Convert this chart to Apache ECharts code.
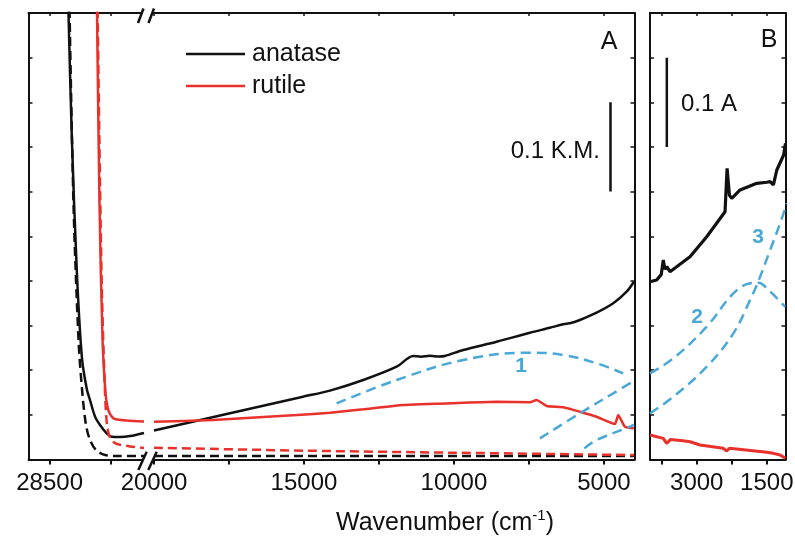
<!DOCTYPE html>
<html>
<head>
<meta charset="utf-8">
<script src="https://cdn.jsdelivr.net/npm/echarts@6/dist/echarts.min.js"></script>
<style>
  html, body { margin: 0; padding: 0; background: #fff; }
  #chart { width: 795px; height: 536px; }
</style>
</head>
<body>
<div id="chart"></div>
<script>
// ---- Spectra: [wavenumber (cm-1), intensity] ----
// Panel A, UV segment (left of the axis break)
const anataseUV = [[27750,0.52],[27596,0.361],[27388,0.208],[27181,0.113],[26980,0.078],[26855,0.0666],[26650,0.048],[26448,0.0386],[26200,0.030],[25972,0.0255],[25634,0.0252],[25226,0.0262],[24656,0.0297]];
const anataseUVRef = [[27700,0.52],[27527,0.285],[27319,0.1316],[27160,0.0722],[27018,0.0386],[26855,0.0218],[26611,0.0106],[26244,0.005],[25634,0.0039],[24656,0.0039]];
const rutileUV = [[26578,0.52],[26468,0.285],[26342,0.1316],[26224,0.0745],[26150,0.060],[26081,0.0532],[25960,0.0478],[25837,0.0454],[25369,0.0437],[24656,0.0426]];
const rutileUVRef = [[26554,0.52],[26387,0.2083],[26244,0.0745],[26163,0.0386],[26041,0.0241],[25900,0.0196],[25756,0.0174],[25226,0.0146],[24656,0.0129]];

// Panel A, visible / NIR segment
const anataseVis = [[20000,0.0325],[17467,0.0517],[15033,0.0703],[14133,0.0771],[13023,0.089],[11910,0.1039],[11357,0.1159],[11100,0.1152],[10800,0.1162],[10500,0.1153],[10300,0.1159],[9690,0.1226],[8577,0.1319],[7467,0.142],[6800,0.1475],[6357,0.1514],[6100,0.1528],[5800,0.1562],[5243,0.1644],[4690,0.1749],[4243,0.1879],[4000,0.1991]];
const anataseVisRef = [[20000,0.0039],[12000,0.0039],[4000,0.0039]];
const rutileVis = [[20000,0.0423],[18033,0.0442],[15233,0.0498],[14133,0.0524],[13023,0.0562],[11690,0.061],[9690,0.0636],[8577,0.0647],[7467,0.064],[7243,0.0666],[6910,0.0599],[6357,0.0585],[5800,0.0535],[5243,0.0479],[4633,0.0398],[4523,0.0498],[4300,0.0367],[4000,0.035]];
const rutileVisRef = [[20000,0.0132],[15000,0.0099],[10000,0.0076],[4000,0.005]];

// Fitted absorption bands 1-3 (panel A part)
const band1 = [[13910,0.0629],[11910,0.089],[9690,0.1114],[7467,0.1196],[6357,0.117],[5243,0.1077],[4357,0.0965]];
const band2A = [[7133,0.0237],[5800,0.0517],[4690,0.0741],[4000,0.0879]];
const band3A = [[5650,0.0125],[5243,0.0218],[4133,0.0367],[4000,0.039]];

// Panel B, mid-IR absorbance
const anataseIR = [[4000,0.199],[3857,0.201],[3760,0.207],[3716,0.2234],[3680,0.213],[3640,0.216],[3572,0.2103],[3144,0.2271],[2786,0.2495],[2394,0.2775],[2350,0.326],[2300,0.296],[2250,0.2925],[2072,0.3018],[1714,0.3093],[1500,0.3105],[1429,0.3111],[1359,0.3074],[1286,0.3242],[1140,0.341],[1100,0.354]];
const rutileIR = [[4000,0.0274],[3716,0.0237],[3643,0.018],[3560,0.0225],[3300,0.021],[3144,0.0199],[2929,0.0162],[2430,0.0125],[2357,0.0095],[2300,0.0125],[1800,0.0098],[1500,0.008],[1359,0.0069],[1215,0.005],[1100,0.0013]];
const band2B = [[4000,0.0965],[3501,0.1133],[2786,0.1487],[2216,0.186],[1858,0.1973],[1680,0.198],[1500,0.1917],[1108,0.1711]];
const band3B = [[4000,0.0517],[3501,0.0703],[2786,0.1039],[2216,0.1413],[1858,0.1786],[1643,0.2047],[1429,0.2346],[1215,0.2645],[1072,0.2869]];

// Scale bars (0.1 units tall)
const scaleBarKM = [[4780,0.30],[4780,0.40]];
const scaleBarAbs = [[3640,0.35],[3640,0.45]];

// Axis ticks and labels
const ticksUV = [28500, 26000];
const labelsUV = [28500];
const ticksVis = [20000, 17500, 15000, 12500, 10000, 7500, 5000];
const labelsVis = [20000, 15000, 10000, 5000];
const ticksIR = [3750, 3000, 2250, 1500];
const labelsIR = [3000, 1500];

const FONT = '"Liberation Sans", Arial, Helvetica, sans-serif';
const BLACK = '#111111';
const RED = '#e8312a';
const BLUE = '#4aa8d8';

const chart = echarts.init(document.getElementById('chart'), null, { renderer: 'canvas' });

const TOP = 13, BOTTOM_Y = 459.5;
const gridBase = { top: TOP, height: BOTTOM_Y - TOP, containLabel: false, outerBoundsMode: 'none' };
const grids = [
  Object.assign({ left: 28.5, width: 154 - 28.5 }, gridBase),
  Object.assign({ left: 154, width: 634.5 - 154 }, gridBase),
  Object.assign({ left: 650, width: 785.5 - 650 }, gridBase)
];

const frameLine = { show: true, onZero: false, lineStyle: { color: BLACK, width: 2 } };

function xAxes(gridIndex, min, max, ticks, labels) {
  const base = {
    type: 'value', gridIndex, min, max, inverse: true,
    splitLine: { show: false }, minorTick: { show: false },
    axisLine: frameLine
  };
  return [
    Object.assign({}, base, {
      position: 'bottom',
      axisTick: { show: true, inside: false, length: 5, customValues: ticks, lineStyle: { color: BLACK, width: 2 } },
      axisLabel: {
        show: true, customValues: labels, margin: 12, color: BLACK,
        fontFamily: FONT, fontSize: 24, formatter: v => String(v),
        hideOverlap: false
      }
    }),
    Object.assign({}, base, {
      position: 'top',
      axisTick: { show: true, inside: true, length: 3, customValues: ticks, lineStyle: { color: BLACK, width: 1.5 } },
      axisLabel: { show: false }
    })
  ];
}

function yAxis(gridIndex, position, show) {
  return {
    type: 'value', gridIndex, position, min: 0, max: 0.5, interval: 0.05,
    splitLine: { show: false },
    axisLine: { show, onZero: false, lineStyle: { color: BLACK, width: 2 } },
    axisTick: { show, inside: true, length: 4, lineStyle: { color: BLACK, width: 1.5 } },
    axisLabel: { show: false }
  };
}

function line(name, data, xi, yi, color, opts = {}) {
  return {
    type: 'line', name, data, xAxisIndex: xi, yAxisIndex: yi,
    showSymbol: false, symbol: 'none', clip: true, silent: true,
    lineStyle: { color, width: opts.width || 2.5, type: opts.dash || 'solid' },
    itemStyle: { color },
    smooth: opts.smooth || false,
    z: 2
  };
}

const dash = [9, 5];
const blueDash = [10, 6];

const option = {
  animation: false,
  backgroundColor: '#fff',
  grid: grids,
  xAxis: [
    ...xAxes(0, 24250, 29360, ticksUV, labelsUV),
    ...xAxes(1, 3980, 20000, ticksVis, labelsVis),
    ...xAxes(2, 1100, 4000, ticksIR, labelsIR)
  ],
  yAxis: [
    yAxis(0, 'left', true),
    yAxis(1, 'right', true),
    yAxis(2, 'left', true),
    yAxis(2, 'right', true)
  ],
  legend: {
    data: ['anatase', 'rutile'],
    orient: 'vertical', left: 186, top: 38, padding: 0,
    icon: 'rect', itemWidth: 59, itemHeight: 2.5, itemGap: 0,
    selectedMode: false,
    textStyle: { fontFamily: FONT, fontSize: 25, color: BLACK, lineHeight: 32, padding: [0, 0, 0, 2] }
  },
  series: [
    // panel A, UV segment
    line('anatase', anataseUV, 0, 0, BLACK, { smooth: 0.3 }),
    line('anatase ref', anataseUVRef, 0, 0, BLACK, { dash, smooth: 0.3 }),
    line('rutile', rutileUV, 0, 0, RED, { smooth: 0.3 }),
    line('rutile ref', rutileUVRef, 0, 0, RED, { dash, smooth: 0.3 }),
    // panel A, vis/NIR segment
    line('anatase', anataseVis, 2, 1, BLACK, { smooth: 0.3 }),
    line('anatase ref', anataseVisRef, 2, 1, BLACK, { dash }),
    line('rutile', rutileVis, 2, 1, RED, { smooth: 0.15 }),
    line('rutile ref', rutileVisRef, 2, 1, RED, { dash, smooth: 0.3 }),
    line('band 1', band1, 2, 1, BLUE, { dash: blueDash, smooth: 0.4 }),
    line('band 2', band2A, 2, 1, BLUE, { dash: blueDash, smooth: 0.4 }),
    line('band 3', band3A, 2, 1, BLUE, { dash: blueDash, smooth: 0.4 }),
    line('0.1 K.M.', scaleBarKM, 2, 1, BLACK, { width: 2.5 }),
    // panel B
    line('anatase', anataseIR, 4, 2, BLACK, { width: 3.2 }),
    line('rutile', rutileIR, 4, 2, RED, { width: 3 }),
    line('band 2', band2B, 4, 2, BLUE, { dash: blueDash, smooth: 0.4 }),
    line('band 3', band3B, 4, 2, BLUE, { dash: blueDash, smooth: 0.4 }),
    line('0.1 A', scaleBarAbs, 4, 2, BLACK, { width: 2.5 })
  ],
  graphic: [
    // axis break marks (top and bottom)
    { type: 'polygon', z: 100, shape: { points: [[138,23],[143.5,8.5],[154,8.5],[148.5,23]] }, style: { fill: '#fff' } },
    { type: 'line', z: 101, shape: { x1: 138, y1: 23, x2: 143.5, y2: 8.5 }, style: { stroke: BLACK, lineWidth: 2.5 } },
    { type: 'line', z: 101, shape: { x1: 148.5, y1: 23, x2: 154, y2: 8.5 }, style: { stroke: BLACK, lineWidth: 2.5 } },
    { type: 'polygon', z: 100, shape: { points: [[138.3,470],[146.7,451.7],[156.7,451.7],[148.3,470]] }, style: { fill: '#fff' } },
    { type: 'line', z: 101, shape: { x1: 138.3, y1: 470, x2: 146.7, y2: 451.7 }, style: { stroke: BLACK, lineWidth: 2.5 } },
    { type: 'line', z: 101, shape: { x1: 148.3, y1: 470, x2: 156.7, y2: 451.7 }, style: { stroke: BLACK, lineWidth: 2.5 } },
    // panel letters
    { type: 'text', z: 102, x: 609, y: 42, style: { text: 'A', font: '25px ' + FONT, fill: BLACK, align: 'center', verticalAlign: 'middle' } },
    { type: 'text', z: 102, x: 769, y: 40, style: { text: 'B', font: '25px ' + FONT, fill: BLACK, align: 'center', verticalAlign: 'middle' } },
    // scale bar captions
    { type: 'text', z: 102, x: 600, y: 151, style: { text: '0.1 K.M.', font: '24px ' + FONT, fill: BLACK, align: 'right', verticalAlign: 'middle' } },
    { type: 'text', z: 102, x: 681, y: 104, style: { text: '0.1 A', font: '24px ' + FONT, fill: BLACK, align: 'left', verticalAlign: 'middle' } },
    // band numbers
    { type: 'text', z: 102, x: 521, y: 366, style: { text: '1', font: 'bold 21px ' + FONT, fill: BLUE, align: 'center', verticalAlign: 'middle' } },
    { type: 'text', z: 102, x: 697, y: 317, style: { text: '2', font: 'bold 21px ' + FONT, fill: BLUE, align: 'center', verticalAlign: 'middle' } },
    { type: 'text', z: 102, x: 758, y: 237, style: { text: '3', font: 'bold 21px ' + FONT, fill: BLUE, align: 'center', verticalAlign: 'middle' } },
    // x axis title
    {
      type: 'text', z: 102, x: 445, y: 523,
      style: {
        text: '{t|Wavenumber (cm}{s|-1}{t|)}',
        align: 'center', verticalAlign: 'middle',
        rich: {
          t: { fontFamily: FONT, fontSize: 25, fill: BLACK, color: BLACK, lineHeight: 30, verticalAlign: 'middle' },
          s: { fontFamily: FONT, fontSize: 15, fill: BLACK, color: BLACK, lineHeight: 15, verticalAlign: 'top' }
        }
      }
    }
  ]
};

chart.setOption(option);
</script>
</body>
</html>
